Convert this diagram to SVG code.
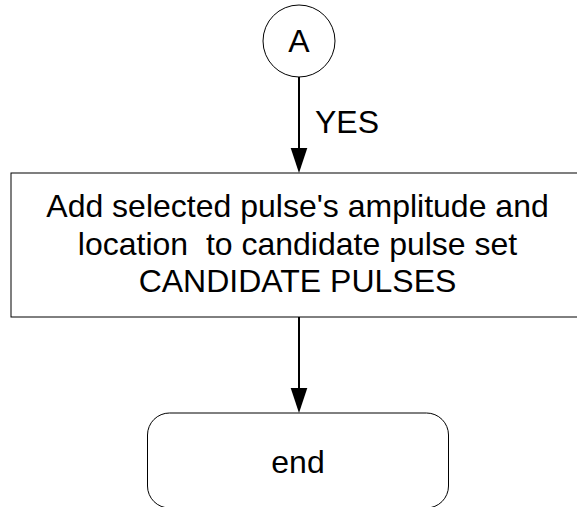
<svg xmlns="http://www.w3.org/2000/svg" width="577" height="507" viewBox="0 0 577 507">
<style>
.n{fill:#fff;stroke:#000;stroke-width:1}
.t{font-family:"Liberation Sans",Arial,sans-serif;font-size:32px;fill:#000;text-anchor:middle}
.c{stroke:#000;stroke-width:2;fill:none}
.ah{fill:#000}
</style>
<rect width="577" height="507" fill="#fff"/>
<g id="connectors">
<line class="c" x1="299" y1="77" x2="299" y2="149"/>
<path class="ah" d="M290.7,148 L307.3,148 L299,173 Z"/>
<text class="t" x="315" y="133" style="text-anchor:start">YES</text>
<line class="c" x1="299" y1="317" x2="299" y2="389"/>
<path class="ah" d="M290.7,388 L307.3,388 L299,413 Z"/>
</g>
<g id="nodeA">
<circle class="n" cx="299" cy="41" r="36"/>
<text class="t" x="299" y="52">A</text>
</g>
<g id="nodeProcess">
<rect class="n" x="11" y="173" width="574" height="144"/>
<text class="t" x="297.5" y="217">Add selected pulse's amplitude and</text>
<text class="t" x="297.5" y="254.5" xml:space="preserve" style="white-space:pre">location  to candidate pulse set</text>
<text class="t" x="297.5" y="292">CANDIDATE PULSES</text>
</g>
<g id="nodeEnd">
<rect class="n" x="147.5" y="413" width="301" height="95" rx="22" ry="22"/>
<text class="t" x="298" y="473">end</text>
</g>
</svg>
